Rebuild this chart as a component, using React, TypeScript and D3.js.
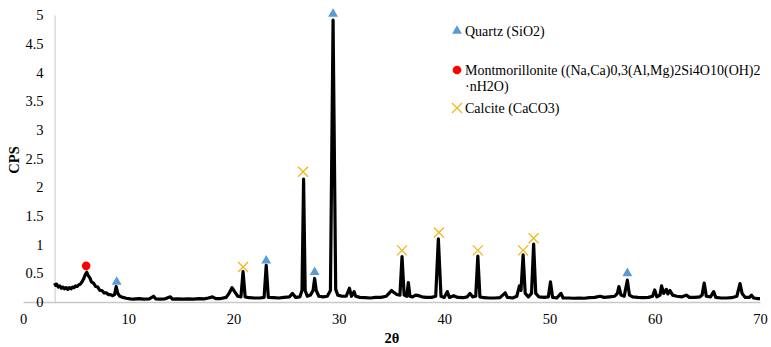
import { useEffect, useRef } from "react";
import * as d3 from "d3";

const WIDTH = 771;
const HEIGHT = 347;
const FONT = "Liberation Serif, Times New Roman, DejaVu Serif, serif";

// 2θ positions and CPS
const twoTheta = [
  3.0, 3.1, 3.2, 3.35, 3.5, 3.65, 3.8, 3.95, 4.1, 4.25, 4.4, 4.55, 4.7, 4.85, 5.0, 5.15, 5.3, 5.45, 5.6, 5.75,
  5.9, 6.05, 6.2, 6.35, 6.5, 6.7, 6.9, 7.1, 7.3, 7.5, 7.7, 7.9, 8.1, 8.3, 8.5, 8.7, 8.85, 9.0, 9.2, 9.5,
  9.8, 10.2, 10.5, 11.0, 11.5, 12.0, 12.4, 12.6, 13.0, 13.5, 14.0, 14.2, 14.7, 15.2, 15.7, 16.2, 16.7, 17.2, 17.6, 18.0,
  18.3, 18.8, 19.3, 19.6, 19.85, 20.1, 20.4, 20.7, 20.9, 21.1, 21.5, 22.0, 22.5, 22.9, 23.1, 23.3, 23.8, 24.3, 24.8, 25.3,
  25.6, 25.9, 26.3, 26.5, 26.65, 26.8, 27.0, 27.3, 27.55, 27.7, 27.85, 28.1, 28.5, 28.9, 29.2, 29.45, 29.7, 29.9, 30.3, 30.7,
  31.0, 31.2, 31.45, 31.6, 32.0, 32.5, 33.0, 33.5, 34.0, 34.5, 34.8, 35.0, 35.2, 35.5, 35.8, 36.0, 36.2, 36.45, 36.6, 36.75,
  37.0, 37.3, 37.6, 37.9, 38.3, 38.8, 39.2, 39.45, 39.7, 40.0, 40.3, 40.5, 40.9, 41.3, 41.8, 42.2, 42.45, 42.7, 43.0, 43.2,
  43.4, 43.8, 44.3, 44.8, 45.3, 45.8, 46.0, 46.5, 46.9, 47.15, 47.3, 47.5, 47.7, 48.0, 48.3, 48.5, 48.7, 49.0, 49.5, 49.9,
  50.1, 50.3, 50.7, 51.1, 51.3, 51.8, 52.3, 52.8, 53.3, 53.8, 54.3, 54.8, 55.2, 55.7, 56.2, 56.45, 56.6, 56.8, 57.1, 57.4,
  57.6, 57.9, 58.4, 58.9, 59.4, 59.8, 60.0, 60.2, 60.5, 60.65, 60.85, 61.1, 61.25, 61.45, 61.7, 62.1, 62.6, 63.0, 63.3, 63.8,
  64.3, 64.5, 64.7, 64.9, 65.3, 65.6, 65.8, 66.3, 66.8, 67.3, 67.8, 68.1, 68.3, 68.6, 69.0, 69.2, 69.4, 69.8, 70.0,
];
const cps = [
  0.33, 0.29, 0.31, 0.26, 0.28, 0.24, 0.26, 0.23, 0.25, 0.22, 0.25, 0.23, 0.26, 0.25, 0.28, 0.27, 0.3, 0.31, 0.35, 0.4,
  0.47, 0.52, 0.46, 0.42, 0.35, 0.33, 0.27, 0.26, 0.2, 0.2, 0.16, 0.16, 0.13, 0.13, 0.11, 0.13, 0.27, 0.15, 0.1, 0.08,
  0.065, 0.055, 0.05, 0.06, 0.05, 0.055, 0.1, 0.055, 0.05, 0.055, 0.09, 0.05, 0.055, 0.05, 0.055, 0.05, 0.06, 0.055, 0.07, 0.09,
  0.06, 0.06, 0.08, 0.16, 0.25, 0.18, 0.1, 0.09, 0.53, 0.09, 0.075, 0.07, 0.07, 0.08, 0.64, 0.08, 0.075, 0.07, 0.08, 0.09,
  0.15, 0.08, 0.09, 0.2, 2.14, 0.2, 0.1, 0.12, 0.2, 0.41, 0.2, 0.1, 0.09, 0.1, 0.2, 4.91, 0.22, 0.12, 0.1, 0.1,
  0.24, 0.1, 0.18, 0.1, 0.08, 0.075, 0.07, 0.08, 0.08, 0.1, 0.16, 0.2, 0.17, 0.13, 0.12, 0.79, 0.12, 0.1, 0.34, 0.1,
  0.09, 0.12, 0.11, 0.09, 0.08, 0.08, 0.1, 1.1, 0.1, 0.08, 0.18, 0.08, 0.11, 0.08, 0.075, 0.09, 0.15, 0.09, 0.1, 0.8,
  0.09, 0.075, 0.07, 0.07, 0.075, 0.16, 0.08, 0.07, 0.1, 0.28, 0.2, 0.82, 0.15, 0.09, 0.15, 1.01, 0.15, 0.09, 0.08, 0.09,
  0.35, 0.08, 0.07, 0.15, 0.07, 0.07, 0.065, 0.07, 0.065, 0.075, 0.08, 0.1, 0.08, 0.09, 0.1, 0.15, 0.27, 0.12, 0.1, 0.38,
  0.12, 0.09, 0.08, 0.075, 0.08, 0.1, 0.21, 0.09, 0.12, 0.28, 0.15, 0.22, 0.14, 0.2, 0.12, 0.1, 0.09, 0.12, 0.08, 0.08,
  0.09, 0.12, 0.33, 0.1, 0.09, 0.18, 0.08, 0.07, 0.07, 0.075, 0.1, 0.32, 0.15, 0.08, 0.08, 0.12, 0.07, 0.06, 0.06,
];

// phase markers [2θ, CPS]
const quartzMarks: [number, number][] = [[8.9, 0.35], [23.1, 0.72], [27.7, 0.52], [29.45, 5.02], [57.4, 0.5]];
const montMarks: [number, number][] = [[6.0, 0.63]];
const calciteMarks: [number, number][] = [
  [20.9, 0.61], [26.6, 2.27], [36.0, 0.9], [39.5, 1.21], [43.2, 0.9], [47.5, 0.9], [48.5, 1.11],
];

const xTicks = [0, 10, 20, 30, 40, 50, 60, 70];
const yTicks = [0, 0.5, 1, 1.5, 2, 2.5, 3, 3.5, 4, 4.5, 5];

const QUARTZ = "#5B9BD5";
const MONT = "#FF0000";
const CALCITE = "#F2B51C";

export default function App() {
  const svgRef = useRef<SVGSVGElement>(null);

  useEffect(() => {
    if (!svgRef.current) return;
    const svg = d3.select(svgRef.current);
    svg.selectAll("*").remove();

    const x = d3.scaleLinear().domain([0, 70]).range([23, 760]);
    const y = d3.scaleLinear().domain([0, 5]).range([302, 15]);

    svg.append("rect").attr("width", WIDTH).attr("height", HEIGHT).attr("fill", "white");

    // x axis
    const xAxis = svg
      .append("g")
      .attr("transform", `translate(0,${y(0)})`)
      .call(d3.axisBottom(x).tickValues(xTicks).tickFormat(d3.format("d")).tickSize(0).tickPadding(12));
    xAxis.select(".domain").attr("stroke", "#C8C8C8").attr("stroke-width", 1.3);
    xAxis.selectAll("text").style("font-family", FONT).style("font-size", "14.5px").attr("fill", "#000");

    // y axis sits at 2θ = 3
    const yAxis = svg
      .append("g")
      .attr("transform", `translate(${x(3)},0)`)
      .call(d3.axisLeft(y).tickValues(yTicks).tickFormat(d3.format("~g")).tickSize(0).tickPadding(11));
    yAxis.select(".domain").attr("stroke", "#C8C8C8").attr("stroke-width", 1);
    yAxis.selectAll("text").style("font-family", FONT).style("font-size", "14.5px").attr("fill", "#000");

    // pattern
    const pts = twoTheta.map((t, i) => [t, cps[i]] as [number, number]);
    const line = d3
      .line<[number, number]>()
      .x((d) => x(d[0]))
      .y((d) => y(d[1]));
    svg
      .append("path")
      .datum(pts)
      .attr("d", line)
      .attr("fill", "none")
      .attr("stroke", "#000")
      .attr("stroke-width", 3.2)
      .attr("stroke-linejoin", "round");

    const tri = d3.symbol().type(d3.symbolTriangle).size(42);
    const drawTri = (g: any, cx: number, cy: number) =>
      g.append("path").attr("d", tri()).attr("transform", `translate(${cx},${cy})`).attr("fill", QUARTZ);
    const drawCircle = (g: any, cx: number, cy: number) =>
      g.append("circle").attr("cx", cx).attr("cy", cy).attr("r", 4.3).attr("fill", MONT);
    const drawCross = (g: any, cx: number, cy: number) => {
      const s = 5;
      g.append("path")
        .attr("d", `M${cx - s},${cy - s}L${cx + s},${cy + s}M${cx - s},${cy + s}L${cx + s},${cy - s}`)
        .attr("stroke", CALCITE)
        .attr("stroke-width", 1.3)
        .attr("fill", "none");
    };

    const marks = svg.append("g");
    quartzMarks.forEach(([a, b]) => drawTri(marks, x(a), y(b)));
    montMarks.forEach(([a, b]) => drawCircle(marks, x(a), y(b)));
    calciteMarks.forEach(([a, b]) => drawCross(marks, x(a), y(b)));

    // legend
    const lg = svg.append("g").style("font-family", FONT).style("font-size", "14px").attr("fill", "#000");
    drawTri(lg, 457, 31);
    lg.append("text").attr("x", 465).attr("y", 31).attr("dy", "0.35em").text("Quartz (SiO2)");
    drawCircle(lg, 457, 70);
    lg.append("text").attr("x", 465).attr("y", 70).attr("dy", "0.35em").text("Montmorillonite ((Na,Ca)0,3(Al,Mg)2Si4O10(OH)2");
    lg.append("text").attr("x", 465).attr("y", 86).attr("dy", "0.35em").text("·nH2O)");
    drawCross(lg, 457, 108);
    lg.append("text").attr("x", 465).attr("y", 108).attr("dy", "0.35em").text("Calcite (CaCO3)");

    // axis titles
    svg
      .append("text")
      .attr("transform", `translate(19,160) rotate(-90)`)
      .attr("text-anchor", "middle")
      .style("font-family", FONT)
      .style("font-size", "14.5px")
      .attr("font-weight", "bold")
      .text("CPS");
    svg
      .append("text")
      .attr("x", 392)
      .attr("y", 343)
      .attr("text-anchor", "middle")
      .style("font-family", FONT)
      .style("font-size", "14.5px")
      .attr("font-weight", "bold")
      .text("2θ");
  }, []);

  return (
    <svg
      ref={svgRef}
      width={WIDTH}
      height={HEIGHT}
      style={{ position: "absolute", left: 0, top: 0 }}
    />
  );
}
